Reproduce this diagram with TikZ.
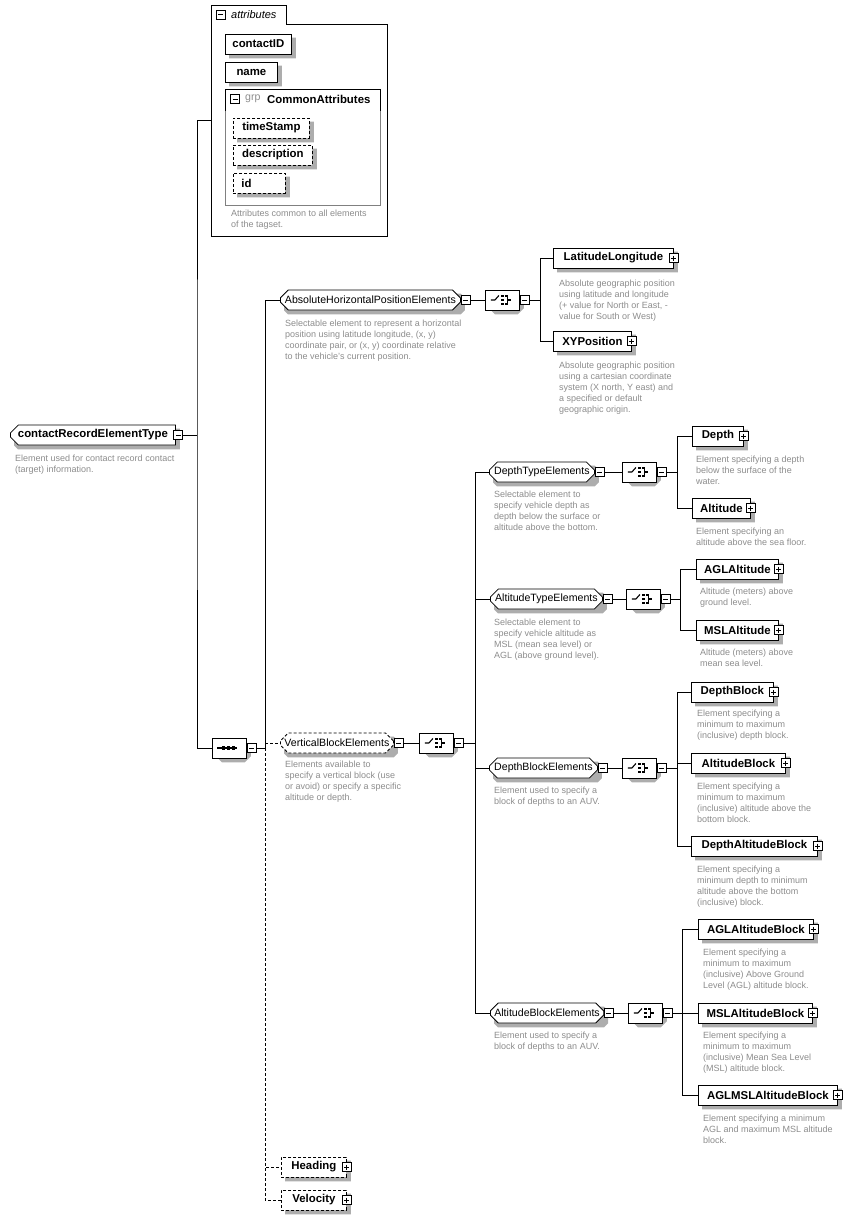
\documentclass[tikz,border=0pt]{standalone}
\usepackage{fontspec}
\setmainfont{Liberation Sans}
\usepackage{tikz}
\usetikzlibrary{shapes,shapes.misc,positioning,backgrounds,calc}

\begin{document}
\begin{tikzpicture}[x=1pt,y=-1pt]
	\tikzstyle{Box}		= [draw, thick, fill=white, minimum height=20pt, inner sep=0pt, anchor=west]
	\tikzstyle{Elem}	= [Box, rectangle, font=\fontsize{11.4}{13}\selectfont\bfseries]
	\tikzstyle{Chamf}	= [chamfered rectangle, chamfered rectangle xsep=4pt, chamfered rectangle ysep=4pt]
	\tikzstyle{Grp}		= [Box, Chamf, font=\fontsize{10.6}{13}\selectfont]
	\tikzstyle{Comp}	= [Box, Chamf, chamfered rectangle xsep=6pt, chamfered rectangle ysep=6pt, minimum width=34pt]
	\tikzstyle{Opt}		= [dash pattern=on 3pt off 2pt]
	\tikzstyle{Link}	= [thick]
	\tikzstyle{Shadow}	= [fill=black!32]
	\tikzstyle{PM}		= [draw, thick, fill=white, rectangle, minimum size=9pt, inner sep=0pt]
	\tikzstyle{Minus}	= [PM, path picture={\draw ([xshift=2pt]path picture bounding box.west) -- ([xshift=-2pt]path picture bounding box.east);}]
	\tikzstyle{Plus}	= [PM, path picture={\draw ([xshift=2pt]path picture bounding box.west) -- ([xshift=-2pt]path picture bounding box.east) ([yshift=-2pt]path picture bounding box.north) -- ([yshift=2pt]path picture bounding box.south);}]
	\tikzstyle{Desc}	= [anchor=north west, yshift=7.7pt, inner sep=0pt, align=left, text=black!45, font=\fontsize{9}{11}\selectfont, execute at begin node=\strut]

	\useasboundingbox (0,0) rectangle (852,1220);

	% root element
	\node (root) at (10,435) [Box, Chamf, chamfered rectangle corners={north west,south west}, minimum width=165pt, font=\fontsize{11.4}{13}\selectfont\bfseries] {contactRecordElementType};
	\node (rootm) at ([xshift=2.5pt]root.east) [Minus] {};
	\node at (15,462) [Desc] {Element used for contact record contact\\(target) information.};

	% attributes
	\draw [Link] (211,236) -- (211,5) -- (286,5) -- (286,24) -- (387,24) -- (387,236) -- cycle;
	\node (attrm) at (220.5,14.5) [Minus] {};
	\node (attr) at (231,15) [anchor=west, inner sep=0pt, font=\fontsize{11}{13}\selectfont\itshape] {attributes};
	\coordinate (attrin) at (211,120);
	\node (contactID) at (225,44) [Elem, minimum width=66pt] {contactID};
	\node (name) at (225,72) [Elem, minimum width=52pt] {name};
	\draw [Link, black!50] (225,89) rectangle (380,205);
	\draw [Link] (225,111) -- (225,89) -- (380,89) -- (380,111);
	\node (grpm) at (235,99) [Minus] {};
	\node (grp) at (245,99) [anchor=west, inner sep=0pt, text=black!45, font=\fontsize{10.6}{13}\selectfont] {grp};
	\node (common) at (267,99) [anchor=west, inner sep=0pt, font=\fontsize{11.4}{13}\selectfont\bfseries] {CommonAttributes};
	\node (timeStamp) at (233,128) [Elem, Opt, minimum width=76pt] {timeStamp};
	\node (description) at (233,155) [Elem, Opt, minimum width=79pt] {description};
	\node (id) at (233,183) [Elem, Opt, minimum width=52pt, text width=36pt] {id};
	\node at (231,217) [Desc] {Attributes common to all elements\\of the tagset.};

	% sequence
	\node (seq) at (212,748) [Comp] {};
	\node (seqm) [Minus, right=0pt of seq] {};

	% group elements
	\node (ahpe) at (280,300) [Grp, minimum width=180pt] {AbsoluteHorizontalPositionElements};
	\node (vbe) at (280,743) [Grp, Opt, minimum width=113pt] {VerticalBlockElements};
	\node (dte) at (489,472) [Grp, minimum width=105pt] {DepthTypeElements};
	\node (ate) at (490,599) [Grp, minimum width=112pt] {AltitudeTypeElements};
	\node (dbe) at (489,768) [Grp, minimum width=108pt] {DepthBlockElements};
	\node (abe) at (490,1013) [Grp, minimum width=113pt] {AltitudeBlockElements};
	\foreach \g/\c/\x in {ahpe/ch1/485, vbe/ch2/419, dte/ch3/622, ate/ch4/626, dbe/ch5/622, abe/ch6/628} {
		\node (\g m) [Minus, right=0pt of \g] {};
		\node (\c) at (\x,0 |- \g) [Comp] {};
		\node (\c m) [Minus, right=0pt of \c] {};
		\draw [Link] (\g m) -- (\c);
	}

	% leaf elements
	\foreach \n/\x/\y/\w/\t in {lat/553/258/120/LatitudeLongitude, xy/553/341/78/XYPosition,
			depth/692/436/51/Depth, alt/692/508/58/Altitude,
			agla/696/569/82/AGLAltitude, msla/696/630/82/MSLAltitude,
			db/691/692/82/DepthBlock, ab/691/763/94/AltitudeBlock, dab/691/846/126/DepthAltitudeBlock,
			aglab/698/929/115/AGLAltitudeBlock, mslab/698/1013/114/MSLAltitudeBlock, aglmsl/698/1095/139/AGLMSLAltitudeBlock} {
		\node (\n) at (\x,\y) [Elem, minimum width=\w pt] {\t};
		\node (\n p) at (\n.east) [Plus] {};
	}
	\node (heading) at (281,1167) [Elem, Opt, minimum width=65pt] {Heading};
	\node (headingp) at (heading.east) [Plus] {};
	\node (velocity) at (281,1200) [Elem, Opt, minimum width=65pt] {Velocity};
	\node (velocityp) at (velocity.east) [Plus] {};

	% shadows
	\begin{scope}[on background layer]
		\foreach \n/\c in {contactID/0, name/0, timeStamp/0, description/0, id/0, lat/0, xy/0, depth/0, alt/0,
				agla/0, msla/0, db/0, ab/0, dab/0, aglab/0, mslab/0, aglmsl/0, heading/0, velocity/0,
				ahpe/4, vbe/4, dte/4, ate/4, dbe/4, abe/4, seq/6, ch1/6, ch2/6, ch3/6, ch4/6, ch5/6, ch6/6}
			\fill [Shadow] ($(\n.west |- \n.north)+(\c+4,4)$) -- ($(\n.east |- \n.north)+(4-\c,4)$)
				-- ($(\n.east |- \n.north)+(4,\c+4)$) -- ($(\n.east |- \n.south)+(4,4-\c)$)
				-- ($(\n.east |- \n.south)+(4-\c,4)$) -- ($(\n.west |- \n.south)+(\c+4,4)$)
				-- ($(\n.west |- \n.south)+(4,4-\c)$) -- ($(\n.west |- \n.north)+(4,\c+4)$) -- cycle;
		\fill [Shadow] ($(root.west |- root.north)+(8,4)$) -- ($(root.east |- root.north)+(4,4)$)
			-- ($(root.east |- root.south)+(4,4)$) -- ($(root.west |- root.south)+(8,4)$)
			-- ($(root.west |- root.south)+(4,0)$) -- ($(root.west |- root.north)+(4,8)$) -- cycle;
	\end{scope}

	% compositor symbols
	\foreach \c in {ch1,ch2,ch3,ch4,ch5,ch6} {
		\draw [line width=1.1pt] ([xshift=-11.5pt]\c.center) -- ++(4,0) -- ++(4,-4.5);
		\foreach \d in {-4,0,4}
			\fill ([yshift=\d pt]\c.center) ++(-1,-1.4) rectangle ++(2.8,2.8);
		\draw [line width=1.1pt] ([shift={(2.5,-4)}]\c.center) -- ++(3,0) -- ++(0,8) -- ++(-3,0);
		\draw [line width=1.1pt] ([xshift=5.5pt]\c.center) -- ++(3,0);
	}
	\draw [line width=1.1pt] ([xshift=-12pt]seq.center) -- ([xshift=8pt]seq.center);
	\foreach \d in {-6,-1,4}
		\fill ([xshift=\d pt]seq.center) ++(-1.6,-1.6) rectangle ++(3.2,3.2);

	% trunks
	\coordinate (t0) at (197,435);
	\coordinate (t1) at (265,748);
	\coordinate (t2) at (540,300);
	\coordinate (t3) at (475,743);
	\coordinate (t4) at (677,472);
	\coordinate (t5) at (680,599);
	\coordinate (t6) at (677,768);
	\coordinate (t7) at (682,1013);
	\draw [Link] (rootm) -- (t0);
	\draw [Link] (attrin) -| (t0) |- (seq);
	\draw [Link] (seqm) -- (t1) |- (ahpe);
	\draw [Link, Opt] (t1) |- (vbe);
	\draw [Link, Opt] (t1) |- (heading);
	\draw [Link, Opt] (t1) |- (velocity);
	\draw [Link] (ch1m) -- (t2) (t2) |- (lat) (t2) |- (xy);
	\draw [Link] (ch2m) -- (t3) (t3) |- (dte) (t3) |- (ate) (t3) |- (dbe) (t3) |- (abe);
	\draw [Link] (ch3m) -- (t4) (t4) |- (depth) (t4) |- (alt);
	\draw [Link] (ch4m) -- (t5) (t5) |- (agla) (t5) |- (msla);
	\draw [Link] (ch5m) -- (t6) (t6) |- (db) (t6) |- (ab) (t6) |- (dab);
	\draw [Link] (ch6m) -- (t7) (t7) |- (aglab) (t7) |- (mslab) (t7) |- (aglmsl);

	% descriptions
	\node at (285,327) [Desc] {Selectable element to represent a horizontal\\position using latitude longitude, (x, y)\\coordinate pair, or (x, y) coordinate relative\\to the vehicle's current position.};
	\node at (559,287) [Desc] {Absolute geographic position\\using latitude and longitude\\(+ value for North or East, -\\value for South or West)};
	\node at (559,369) [Desc] {Absolute geographic position\\using a cartesian coordinate\\system (X north, Y east) and\\a specified or default\\geographic origin.};
	\node at (285,768) [Desc] {Elements available to\\specify a vertical block (use\\or avoid) or specify a specific\\altitude or depth.};
	\node at (494,498) [Desc] {Selectable element to\\specify vehicle depth as\\depth below the surface or\\altitude above the bottom.};
	\node at (696,463) [Desc] {Element specifying a depth\\below the surface of the\\water.};
	\node at (696,535) [Desc] {Element specifying an\\altitude above the sea floor.};
	\node at (494,626) [Desc] {Selectable element to\\specify vehicle altitude as\\MSL (mean sea level) or\\AGL (above ground level).};
	\node at (700,595) [Desc] {Altitude (meters) above\\ground level.};
	\node at (700,656) [Desc] {Altitude (meters) above\\mean sea level.};
	\node at (494,794) [Desc] {Element used to specify a\\block of depths to an AUV.};
	\node at (697,717) [Desc] {Element specifying a\\minimum to maximum\\(inclusive) depth block.};
	\node at (697,790) [Desc] {Element specifying a\\minimum to maximum\\(inclusive) altitude above the\\bottom block.};
	\node at (697,873) [Desc] {Element specifying a\\minimum depth to minimum\\altitude above the bottom\\(inclusive) block.};
	\node at (494,1039) [Desc] {Element used to specify a\\block of depths to an AUV.};
	\node at (703,956) [Desc] {Element specifying a\\minimum to maximum\\(inclusive) Above Ground\\Level (AGL) altitude block.};
	\node at (703,1039) [Desc] {Element specifying a\\minimum to maximum\\(inclusive) Mean Sea Level\\(MSL) altitude block.};
	\node at (703,1122) [Desc] {Element specifying a minimum\\AGL and maximum MSL altitude\\block.};
\end{tikzpicture}
\end{document}
